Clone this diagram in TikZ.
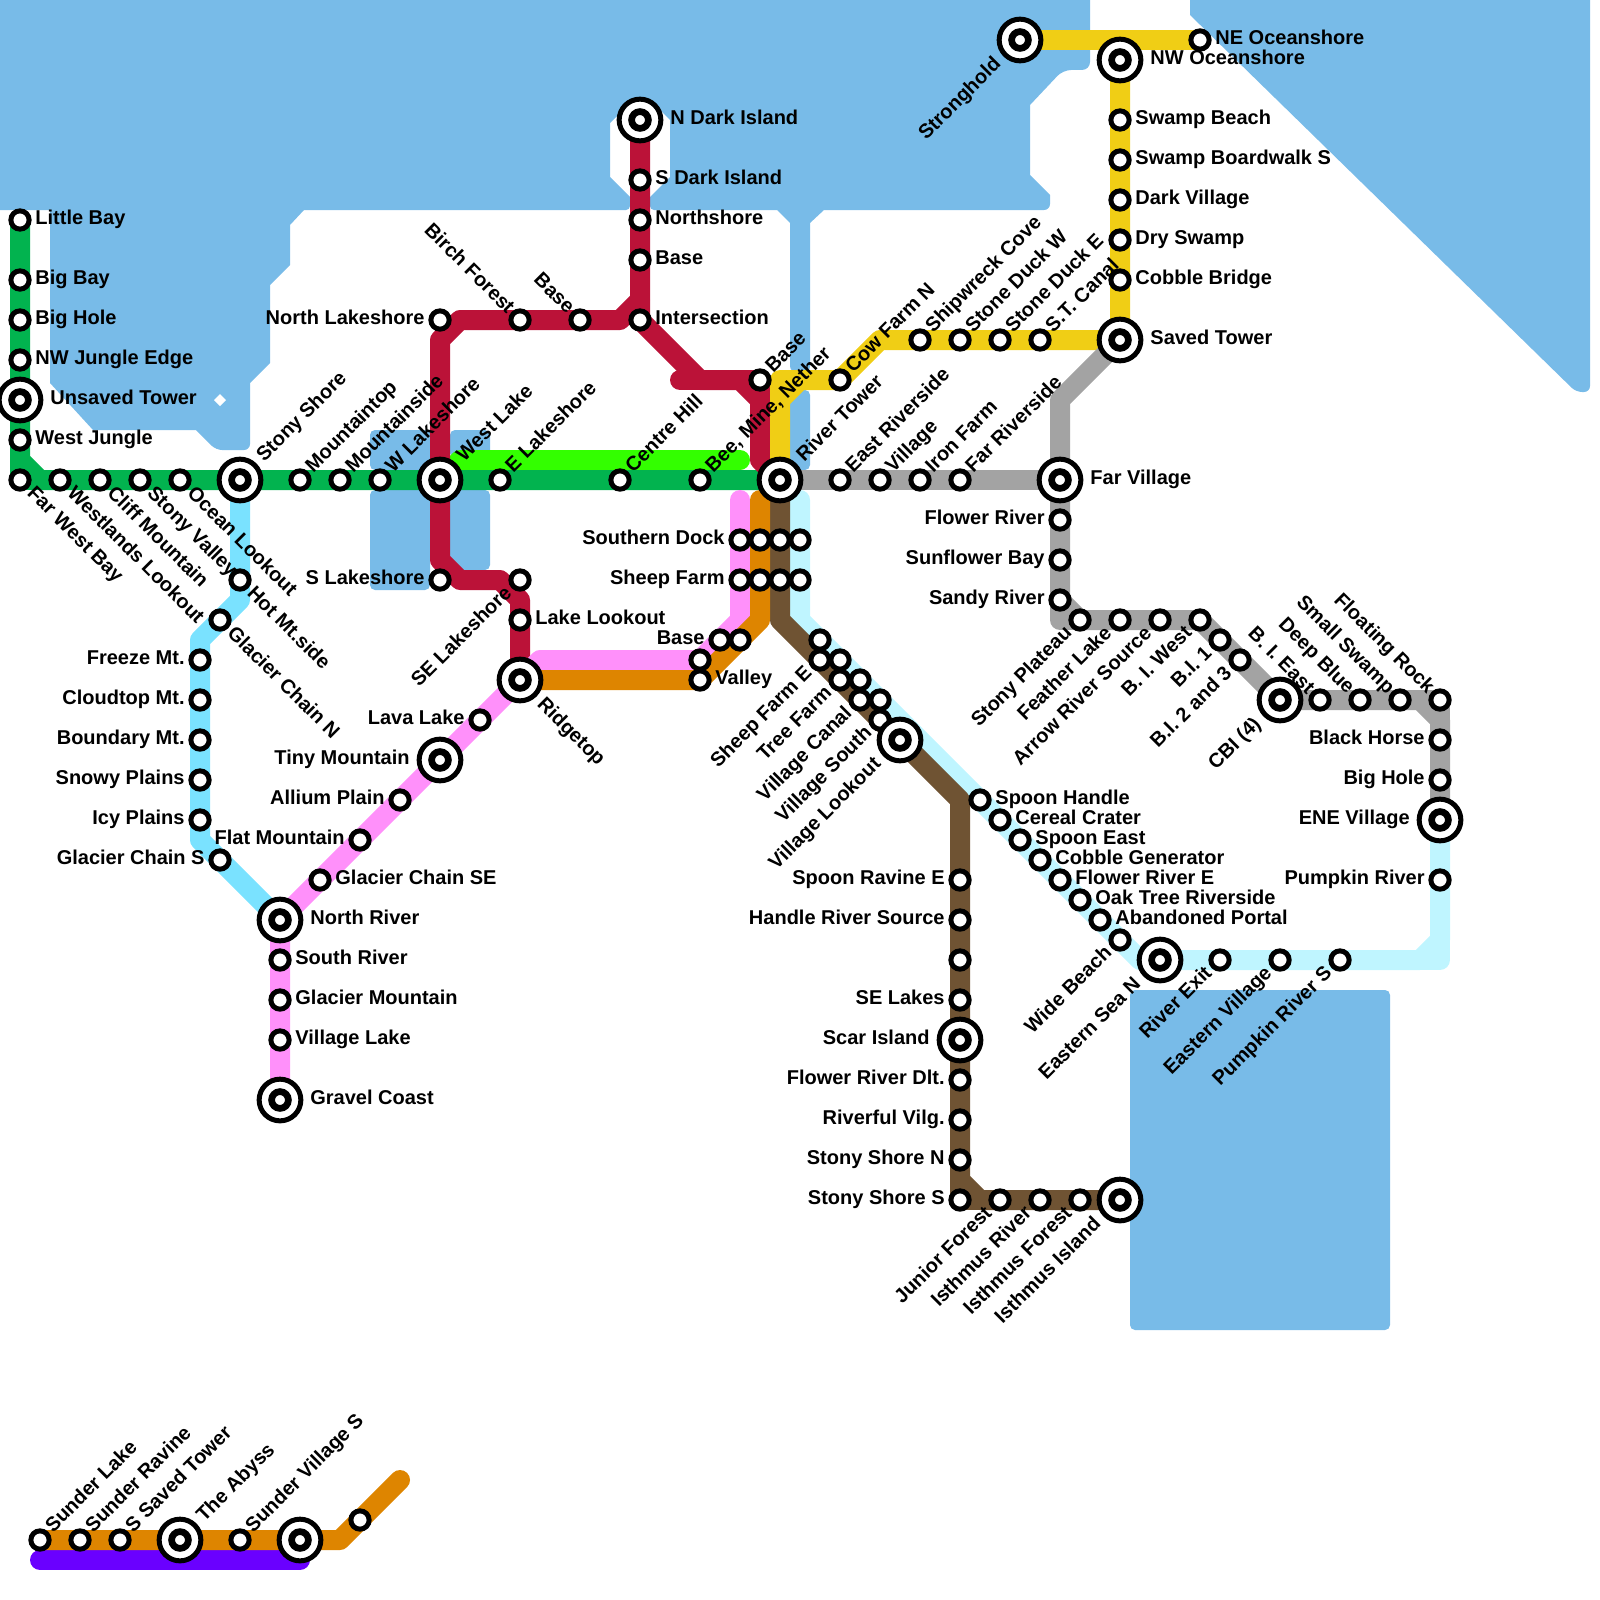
\documentclass[tikz,border=0pt]{standalone}
\usepackage{fontspec}
\setmainfont{Liberation Sans}
\usepackage{xcolor}
\usetikzlibrary{positioning,calc}
\definecolor{seablue}{HTML}{78BBE8}
\definecolor{jungle}{HTML}{02B34F}
\definecolor{lime}{HTML}{33FF00}
\definecolor{lake}{HTML}{BB1238}
\definecolor{swamp}{HTML}{F0CE15}
\definecolor{stone}{HTML}{A3A3A3}
\definecolor{spoon}{HTML}{BFF5FF}
\definecolor{bark}{HTML}{6F5333}
\definecolor{glacier}{HTML}{7AE2FF}
\definecolor{ridge}{HTML}{FF90FA}
\definecolor{ochre}{HTML}{DE8500}
\definecolor{sunder}{HTML}{6A00FF}
\pgfdeclarelayer{water}
\pgfdeclarelayer{rails}
\pgfsetlayers{water,rails,main}
\tikzset{
  rail/.style={line width=10pt, line cap=round, line join=round},
  sea/.style={fill=seablue},
  pond/.style={fill=seablue, rounded corners=2.5pt},
  stop/.style={circle, draw=black, fill=white, line width=2.5pt, minimum size=9.15pt, inner sep=0pt},
  hub/.style={stop, minimum size=20.85pt, path picture={\draw[line width=3.35pt] (path picture bounding box.center) circle (4.2pt);}},
  txt/.style={font=\bfseries\fontsize{10}{11}\selectfont, inner sep=0pt, text=black, name=\tikzlastnode-txt},
  lblr/.style={append after command={(\tikzlastnode.center) node[txt, xshift=7.5pt, yshift=-2.4pt, anchor=base west] {#1}}},
  lbll/.style={append after command={(\tikzlastnode.center) node[txt, xshift=-7.5pt, yshift=-2.4pt, anchor=base east] {#1}}},
  hubr/.style={append after command={(\tikzlastnode.center) node[txt, xshift=15pt, yshift=-2.4pt, anchor=base west] {#1}}},
  hubl/.style={append after command={(\tikzlastnode.center) node[txt, xshift=-15pt, yshift=-2.4pt, anchor=base east] {#1}}},
  lblne/.style={append after command={(\tikzlastnode.center) node[txt, xshift=6.5pt, yshift=3.2pt, rotate=45, anchor=base west] {#1}}},
  hubne/.style={append after command={(\tikzlastnode.center) node[txt, xshift=12pt, yshift=8.5pt, rotate=45, anchor=base west] {#1}}},
  lblse/.style={append after command={(\tikzlastnode.center) node[txt, xshift=3pt, yshift=-7pt, rotate=-45, anchor=base west] {#1}}},
  hubse/.style={append after command={(\tikzlastnode.center) node[txt, xshift=8pt, yshift=-12.5pt, rotate=-45, anchor=base west] {#1}}},
  lblnw/.style={append after command={(\tikzlastnode.center) node[txt, xshift=-6.5pt, yshift=2.5pt, rotate=-45, anchor=base east] {#1}}},
  lblsw/.style={append after command={(\tikzlastnode.center) node[txt, xshift=-3.5pt, yshift=-7pt, rotate=45, anchor=base east] {#1}}},
  hubsw/.style={append after command={(\tikzlastnode.center) node[txt, xshift=-9pt, yshift=-12.5pt, rotate=45, anchor=base east] {#1}}},
}
\begin{document}
\begin{tikzpicture}[x=0.5pt, y=-0.5pt]
  \useasboundingbox (0,0) rectangle (1600,1600);

  % water
  \begin{pgfonlayer}{water}
    \clip (0,0) rectangle (1600,1600);
    \path[sea] (-10,-10) -- (1090,-10) [rounded corners=4pt] -- (1090,70) -- (1063,70) [sharp corners] -- (1030,105) -- (1030,175) -- (1050,195) [rounded corners=3pt] -- (1050,210) [sharp corners]
      -- (824,210) -- (810,223) [rounded corners=3pt] -- (810,372) -- (790,372) [sharp corners] -- (790,223) -- (777,210) [rounded corners=2pt] -- (650,210) [sharp corners] -- (650,197)
      -- (670,177) -- (670,120) -- (650,100) -- (630,103) -- (610,123) -- (610,177) -- (630,197) [rounded corners=2pt] -- (630,210) [sharp corners]
      -- (304,210) -- (290,225) -- (290,265) -- (270,285) -- (270,363) -- (250,383) [rounded corners=3pt] -- (250,450) -- (216,450) [sharp corners]
      -- (196,430) -- (93,430) -- (50,383) -- (50,210) -- (-10,210) -- cycle;
    \path[sea] (1190,-10) -- (1190,15) [rounded corners=3pt] -- (1576,392) -- (1590,392) [sharp corners] -- (1590,-10) -- cycle;
    \path[pond] (1130,990) rectangle (1390,1330);
    \path[pond] (790,390) rectangle (810,470);
    \path[pond] (370,430) rectangle (440,470);
    \path[pond] (370,490) rectangle (430,590);
    \path[pond] (450,430) rectangle (490,458);
    \path[pond] (440,490) rectangle (490,570);
    \path[fill=white] (220,394) -- (226,400) -- (220,406) -- (214,400) -- cycle;
  \end{pgfonlayer}

  % jungle line
  \node[stop, lblr=Little Bay] (littlebay) at (20,220) {};
  \node[stop, lblr=Big Bay] (bigbay) at (20,280) {};
  \node[stop, lblr=Big Hole] (bighole) at (20,320) {};
  \node[stop, lblr=NW Jungle Edge] (nwjungle) at (20,360) {};
  \node[hub, hubr=Unsaved Tower] (unsaved) at (20,400) {};
  \node[stop, lblr=West Jungle] (westjungle) at (20,440) {};
  \node[stop, lblse=Far West Bay] (farwestbay) at (20,480) {};
  \node[stop, lblse=Westlands Lookout] (westlands) at (60,480) {};
  \node[stop, lblse=Cliff Mountain] (cliffmtn) at (100,480) {};
  \node[stop, lblse=Stony Valley] (stonyvalley) at (140,480) {};
  \node[stop, lblse=Ocean Lookout] (oceanlookout) at (180,480) {};
  \node[hub, hubne=Stony Shore] (stonyshore) at (240,480) {};
  \node[stop, lblne=Mountaintop] (mountaintop) at (300,480) {};
  \node[stop, lblne=Mountainside] (mountainside) at (340,480) {};
  \node[stop, lblne=W Lakeshore] (wlakeshore) at (380,480) {};
  \node[hub, hubne=West Lake] (westlake) at (440,480) {};
  \node[stop, lblne=E Lakeshore] (elakeshore) at (500,480) {};
  \node[stop, lblne=Centre Hill] (centrehill) at (620,480) {};
  \node[stop, lblne={Bee, Mine, Nether}] (beemine) at (700,480) {};
  \node[hub, hubne=River Tower] (rivertower) at (780,480) {};
  \coordinate (jbend1) at (20,460);
  \coordinate (jbend2) at (40,480);
  \coordinate (limebend) at (460,460);
  \coordinate (limeend) at (740,460);

  % lake line
  \node[hub, hubr=N Dark Island] (ndark) at (640,120) {};
  \node[stop, lblr=S Dark Island] (sdark) at (640,180) {};
  \node[stop, lblr=Northshore] (northshore) at (640,220) {};
  \node[stop, lblr=Base] (basen) at (640,260) {};
  \node[stop, lblr=Intersection] (intersection) at (640,320) {};
  \node[stop, lblnw=Base] (basew) at (580,320) {};
  \node[stop, lblnw=Birch Forest] (birchforest) at (520,320) {};
  \node[stop, lbll=North Lakeshore] (nlakeshore) at (440,320) {};
  \node[stop, lbll=S Lakeshore] (slakeshore) at (440,580) {};
  \node[stop, lblsw=SE Lakeshore] (selakeshore) at (520,580) {};
  \node[stop, lblr=Lake Lookout] (lakelookout) at (520,620) {};
  \node[hub, hubse=Ridgetop] (ridgetop) at (520,680) {};
  \node[stop, lblne=Base] (baser) at (760,380) {};
  \coordinate (lbend1) at (640,300);
  \coordinate (lbend2) at (620,320);
  \coordinate (lbend3) at (460,320);
  \coordinate (lbend4) at (440,340);
  \coordinate (lbend5) at (440,560);
  \coordinate (lbend6) at (460,580);
  \coordinate (lbend7) at (500,580);
  \coordinate (lbend8) at (520,600);
  \coordinate (lbend9) at (700,380);
  \coordinate (lbend10) at (740,380);
  \coordinate (lbend11) at (760,400);
  \coordinate (lbend12) at (760,460);
  \coordinate (lstub) at (680,380);

  % swamp line
  \node[hub, hubsw=Stronghold] (stronghold) at (1020,40) {};
  \node[stop, lblr=NE Oceanshore] (neocean) at (1200,40) {};
  \node[hub, hubr=NW Oceanshore] (nwocean) at (1120,60) {};
  \node[stop, lblr=Swamp Beach] (swampbeach) at (1120,120) {};
  \node[stop, lblr=Swamp Boardwalk S] (boardwalk) at (1120,160) {};
  \node[stop, lblr=Dark Village] (darkvillage) at (1120,200) {};
  \node[stop, lblr=Dry Swamp] (dryswamp) at (1120,240) {};
  \node[stop, lblr=Cobble Bridge] (cobblebridge) at (1120,280) {};
  \node[hub, hubr=Saved Tower] (savedtower) at (1120,340) {};
  \node[stop, lblne=S.T. Canal] (stcanal) at (1040,340) {};
  \node[stop, lblne=Stone Duck E] (duckeast) at (1000,340) {};
  \node[stop, lblne=Stone Duck W] (duckwest) at (960,340) {};
  \node[stop, lblne=Shipwreck Cove] (shipwreck) at (920,340) {};
  \node[stop, lblne=Cow Farm N] (cowfarm) at (840,380) {};
  \coordinate (sbend1) at (880,340);
  \coordinate (sbend2) at (800,380);
  \coordinate (sbend3) at (780,400);
  \coordinate (scorner) at (780,380);

  % stone line
  \node[stop, lblne=East Riverside] (eastriver) at (840,480) {};
  \node[stop, lblne=Village] (village) at (880,480) {};
  \node[stop, lblne=Iron Farm] (ironfarm) at (920,480) {};
  \node[stop, lblne=Far Riverside] (farriver) at (960,480) {};
  \node[hub, hubr=Far Village] (farvillage) at (1060,480) {};
  \node[stop, lbll=Flower River] (flowerriver) at (1060,520) {};
  \node[stop, lbll=Sunflower Bay] (sunflower) at (1060,560) {};
  \node[stop, lbll=Sandy River] (sandyriver) at (1060,600) {};
  \node[stop, lblsw=Stony Plateau] (plateau) at (1080,620) {};
  \node[stop, lblsw=Feather Lake] (featherlake) at (1120,620) {};
  \node[stop, lblsw=Arrow River Source] (arrowriver) at (1160,620) {};
  \node[stop, lblsw={B. I. West}] (biwest) at (1200,620) {};
  \node[stop, lblsw={B.I. 1}] (bione) at (1220,640) {};
  \node[stop, lblsw={B.I. 2 and 3}] (bitwo) at (1240,660) {};
  \node[hub, hubsw={CBI (4)}] (cbi) at (1280,700) {};
  \node[stop, lblnw={B. I. East}] (bieast) at (1320,700) {};
  \node[stop, lblnw=Deep Blue] (deepblue) at (1360,700) {};
  \node[stop, lblnw=Small Swamp] (smallswamp) at (1400,700) {};
  \node[stop, lblnw=Floating Rock] (floatingrock) at (1440,700) {};
  \node[stop, lbll=Black Horse] (blackhorse) at (1440,740) {};
  \node[stop, lbll=Big Hole] (bigholee) at (1440,780) {};
  \node[hub, hubl=ENE Village] (enevillage) at (1440,820) {};
  \coordinate (tbend1) at (1060,400);
  \coordinate (tcorner) at (1060,620);
  \coordinate (tbend2) at (1420,700);
  \coordinate (tbend3) at (1440,720);

  % spoon line
  \coordinate (spoontop) at (800,500);
  \node[stop] (dockd) at (800,540) {};
  \node[stop] (sheepd) at (800,580) {};
  \node[stop] (spoona) at (820,640) {};
  \node[stop] (spoonb) at (840,660) {};
  \node[stop] (spoonc) at (860,680) {};
  \node[stop] (spoond) at (880,700) {};
  \node[stop, lblr=Spoon Handle] (spoonhandle) at (980,800) {};
  \node[stop, lblr=Cereal Crater] (cereal) at (1000,820) {};
  \node[stop, lblr=Spoon East] (spooneast) at (1020,840) {};
  \node[stop, lblr=Cobble Generator] (cobblegen) at (1040,860) {};
  \node[stop, lblr=Flower River E] (flowere) at (1060,880) {};
  \node[stop, lblr=Oak Tree Riverside] (oaktree) at (1080,900) {};
  \node[stop, lblr=Abandoned Portal] (abandoned) at (1100,920) {};
  \node[stop, lblsw=Wide Beach] (widebeach) at (1120,940) {};
  \node[hub, hubsw=Eastern Sea N] (easternsea) at (1160,960) {};
  \node[stop, lblsw=River Exit] (riverexit) at (1220,960) {};
  \node[stop, lblsw=Eastern Village] (easternvil) at (1280,960) {};
  \node[stop, lblsw=Pumpkin River S] (pumpkins) at (1340,960) {};
  \node[stop, lbll=Pumpkin River] (pumpkin) at (1440,880) {};
  \coordinate (pbend1) at (800,620);
  \coordinate (pbend2) at (1140,960);
  \coordinate (pbend3) at (1420,960);
  \coordinate (pbend4) at (1440,940);
  \coordinate (pcorner) at (1440,960);

  % bark line
  \node[stop] (dockc) at (780,540) {};
  \node[stop] (sheepc) at (780,580) {};
  \node[stop, lblsw=Sheep Farm E] (sheepfarme) at (820,660) {};
  \node[stop, lblsw=Tree Farm] (treefarm) at (840,680) {};
  \node[stop, lblsw=Village Canal] (villagecanal) at (860,700) {};
  \node[stop, lblsw=Village South] (villagesouth) at (880,720) {};
  \node[hub, hubsw=Village Lookout] (villagelookout) at (900,740) {};
  \node[stop, lbll=Spoon Ravine E] (spoonravine) at (960,880) {};
  \node[stop, lbll=Handle River Source] (handlesource) at (960,920) {};
  \node[stop] (nameless) at (960,960) {};
  \node[stop, lbll=SE Lakes] (selakes) at (960,1000) {};
  \node[hub, hubl=Scar Island] (scarisland) at (960,1040) {};
  \node[stop, lbll=Flower River Dlt.] (flowerdlt) at (960,1080) {};
  \node[stop, lbll=Riverful Vilg.] (riverful) at (960,1120) {};
  \node[stop, lbll=Stony Shore N] (stonyn) at (960,1160) {};
  \node[stop, lbll=Stony Shore S] (stonys) at (960,1200) {};
  \node[stop, lblsw=Junior Forest] (juniorforest) at (1000,1200) {};
  \node[stop, lblsw=Isthmus River] (isthriver) at (1040,1200) {};
  \node[stop, lblsw=Isthmus Forest] (isthforest) at (1080,1200) {};
  \node[hub, hubsw=Isthmus Island] (isthisland) at (1120,1200) {};
  \coordinate (bbend1) at (780,620);
  \coordinate (bbend2) at (960,800);
  \coordinate (bbend3) at (960,1180);
  \coordinate (bbend4) at (980,1200);

  % glacier line
  \node[stop, lblse=Hot Mt.side] (hotmt) at (240,580) {};
  \node[stop, lblse=Glacier Chain N] (glaciern) at (220,620) {};
  \node[stop, lbll=Freeze Mt.] (freezemt) at (200,660) {};
  \node[stop, lbll=Cloudtop Mt.] (cloudtop) at (200,700) {};
  \node[stop, lbll=Boundary Mt.] (boundary) at (200,740) {};
  \node[stop, lbll=Snowy Plains] (snowy) at (200,780) {};
  \node[stop, lbll=Icy Plains] (icy) at (200,820) {};
  \node[stop, lbll=Glacier Chain S] (glacierss) at (220,860) {};
  \coordinate (cbend1) at (240,600);
  \coordinate (cbend2) at (200,640);
  \coordinate (cbend3) at (200,840);

  % ridge line
  \coordinate (ridgetop1) at (740,500);
  \node[stop, lbll=Southern Dock] (docka) at (740,540) {};
  \node[stop, lbll=Sheep Farm] (sheepa) at (740,580) {};
  \node[stop, lbll=Base] (basep) at (720,640) {};
  \node[stop] (valleyp) at (700,660) {};
  \node[stop, lbll=Lava Lake] (lavalake) at (480,720) {};
  \node[hub, hubl=Tiny Mountain] (tinymtn) at (440,760) {};
  \node[stop, lbll=Allium Plain] (allium) at (400,800) {};
  \node[stop, lbll=Flat Mountain] (flatmtn) at (360,840) {};
  \node[stop, lblr=Glacier Chain SE] (glacierse) at (320,880) {};
  \node[hub, hubr=North River] (northriver) at (280,920) {};
  \node[stop, lblr=South River] (southriver) at (280,960) {};
  \node[stop, lblr=Glacier Mountain] (glaciermtn) at (280,1000) {};
  \node[stop, lblr=Village Lake] (villagelake) at (280,1040) {};
  \node[hub, hubr=Gravel Coast] (gravelcoast) at (280,1100) {};
  \coordinate (rbend1) at (740,620);
  \coordinate (rbend2) at (540,660);

  % ochre line
  \coordinate (ochretop) at (760,500);
  \node[stop] (dockb) at (760,540) {};
  \node[stop] (sheepb) at (760,580) {};
  \node[stop] (baseo) at (740,640) {};
  \node[stop, lblr=Valley] (valley) at (700,680) {};
  \coordinate (obend1) at (760,620);

  % sunder lines
  \node[stop, lblne=Sunder Lake] (sunderlake) at (40,1540) {};
  \node[stop, lblne=Sunder Ravine] (sunderravine) at (80,1540) {};
  \node[stop, lblne=S Saved Tower] (ssaved) at (120,1540) {};
  \node[hub, hubne=The Abyss] (abyss) at (180,1540) {};
  \node[stop, lblne=Sunder Village S] (sundervil) at (240,1540) {};
  \node[hub] (sunderhub) at (300,1540) {};
  \node[stop] (sunderup) at (360,1520) {};
  \coordinate (ubend) at (340,1540);
  \coordinate (uend) at (400,1480);
  \coordinate (violetw) at (40,1560);
  \coordinate (violete) at (300,1560);

  \begin{pgfonlayer}{rails}
    \draw[rail, lime] (westlake.center) -- (limebend) -- (limeend);
    \draw[rail, jungle] (littlebay.center) -- (bigbay.center) -- (bighole.center) -- (nwjungle.center) -- (unsaved.center) -- (westjungle.center) -- (jbend1) -- (jbend2) -- (westlands.center) -- (cliffmtn.center) -- (stonyvalley.center) -- (oceanlookout.center) -- (stonyshore.center) -- (mountaintop.center) -- (mountainside.center) -- (wlakeshore.center) -- (westlake.center) -- (elakeshore.center) -- (centrehill.center) -- (beemine.center) -- (rivertower.center);
    \draw[rail, jungle] (jbend1) -- (farwestbay.center) -- (jbend2);
    \draw[rail, lake] (ndark.center) -- (sdark.center) -- (northshore.center) -- (basen.center) -- (lbend1) -- (lbend2) -- (basew.center) -- (birchforest.center) -- (lbend3) -- (lbend4) -- (westlake.center) -- (lbend5) -- (lbend6) -- (lbend7) -- (lbend8) -- (lakelookout.center) -- (ridgetop.center);
    \draw[rail, lake] (lbend1) -- (intersection.center) -- (lbend9) -- (lbend10) -- (lbend11) -- (lbend12) -- (rivertower.center);
    \draw[rail, lake] (lstub) -- (lbend9);
    \draw[rail, lake] (lbend10) -- (baser.center) -- (lbend11);
    \draw[rail, swamp] (stronghold.center) -- (neocean.center);
    \draw[rail, swamp] (nwocean.center) -- (swampbeach.center) -- (boardwalk.center) -- (darkvillage.center) -- (dryswamp.center) -- (cobblebridge.center) -- (savedtower.center) -- (stcanal.center) -- (duckeast.center) -- (duckwest.center) -- (shipwreck.center) -- (sbend1) -- (cowfarm.center) -- (sbend2) -- (sbend3) -- (rivertower.center);
    \draw[rail, swamp] (sbend2) -- (scorner) -- (sbend3);
    \draw[rail, stone] (rivertower.center) -- (eastriver.center) -- (village.center) -- (ironfarm.center) -- (farriver.center) -- (farvillage.center);
    \draw[rail, stone] (savedtower.center) -- (tbend1) -- (farvillage.center) -- (flowerriver.center) -- (sunflower.center) -- (sandyriver.center) -- (plateau.center) -- (featherlake.center) -- (arrowriver.center) -- (biwest.center) -- (bione.center) -- (bitwo.center) -- (cbi.center) -- (bieast.center) -- (deepblue.center) -- (smallswamp.center) -- (tbend2) -- (tbend3) -- (blackhorse.center) -- (bigholee.center) -- (enevillage.center);
    \draw[rail, stone] (sandyriver.center) -- (tcorner) -- (plateau.center);
    \draw[rail, stone] (tbend2) -- (floatingrock.center) -- (tbend3);
    \draw[rail, spoon] (spoontop) -- (dockd.center) -- (sheepd.center) -- (pbend1) -- (spoona.center) -- (spoonb.center) -- (spoonc.center) -- (spoond.center) -- (spoonhandle.center) -- (cereal.center) -- (spooneast.center) -- (cobblegen.center) -- (flowere.center) -- (oaktree.center) -- (abandoned.center) -- (widebeach.center) -- (pbend2) -- (easternsea.center) -- (riverexit.center) -- (easternvil.center) -- (pumpkins.center) -- (pbend3) -- (pbend4) -- (pumpkin.center) -- (enevillage.center);
    \draw[rail, spoon] (pbend3) -- (pcorner) -- (pbend4);
    \draw[rail, bark] (rivertower.center) -- (dockc.center) -- (sheepc.center) -- (bbend1) -- (sheepfarme.center) -- (treefarm.center) -- (villagecanal.center) -- (villagesouth.center) -- (villagelookout.center) -- (bbend2) -- (spoonravine.center) -- (handlesource.center) -- (nameless.center) -- (selakes.center) -- (scarisland.center) -- (flowerdlt.center) -- (riverful.center) -- (stonyn.center) -- (bbend3) -- (bbend4) -- (juniorforest.center) -- (isthriver.center) -- (isthforest.center) -- (isthisland.center);
    \draw[rail, bark] (bbend3) -- (stonys.center) -- (bbend4);
    \draw[rail, glacier] (stonyshore.center) -- (hotmt.center) -- (cbend1) -- (glaciern.center) -- (cbend2) -- (freezemt.center) -- (cloudtop.center) -- (boundary.center) -- (snowy.center) -- (icy.center) -- (cbend3) -- (glacierss.center) -- (northriver.center);
    \draw[rail, ridge] (ridgetop1) -- (docka.center) -- (sheepa.center) -- (rbend1) -- (basep.center) -- (valleyp.center) -- (rbend2) -- (ridgetop.center) -- (lavalake.center) -- (tinymtn.center) -- (allium.center) -- (flatmtn.center) -- (glacierse.center) -- (northriver.center) -- (southriver.center) -- (glaciermtn.center) -- (villagelake.center) -- (gravelcoast.center);
    \draw[rail, ochre] (ochretop) -- (dockb.center) -- (sheepb.center) -- (obend1) -- (baseo.center) -- (valley.center) -- (ridgetop.center);
    \draw[rail, sunder] (violetw) -- (violete);
    \draw[rail, ochre] (sunderlake.center) -- (sunderravine.center) -- (ssaved.center) -- (abyss.center) -- (sundervil.center) -- (sunderhub.center) -- (ubend) -- (sunderup.center) -- (uend);
  \end{pgfonlayer}
\end{tikzpicture}
\end{document}
